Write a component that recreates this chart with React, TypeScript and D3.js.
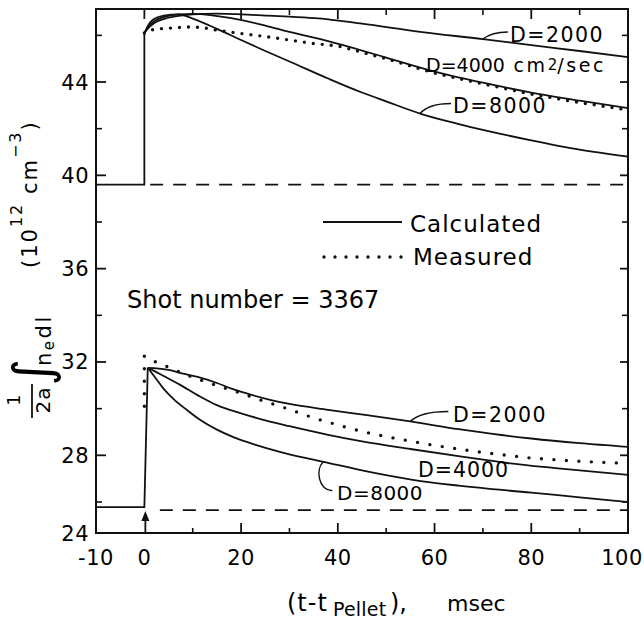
import React from 'react';
import * as d3 from 'd3';

type P = [number, number];

const W = 644;
const H = 620;
const FONT = 'DejaVu Sans';

// axes
const xDomain: P = [-10, 100];
const yDomain: P = [24.67, 47.13];
const xTickLabels = [-10, 0, 20, 40, 60, 80, 100];
const xMinorTicks = [10, 30, 50, 70, 90];
const topMajorTicks = [0, 20, 40, 60, 80];
const yTickLabels = [24, 28, 32, 36, 40, 44];
const yMinorTicks = [26, 30, 34, 38, 42, 46];

// upper group (before pellet, baseline level)
const preUpper: P[] = [[-10, 39.6], [0, 39.6], [0, 46.1]];
const baseUpperLevel = 39.6;
const baseUpperStart = 1.2;

const calcUpper2000: P[] = [[0, 46.1], [1, 46.35], [2, 46.52], [4, 46.7], [6, 46.8], [10, 46.9], [15, 46.93], [20, 46.9], [25, 46.85], [30, 46.8], [36, 46.73], [45, 46.5], [57, 46.15], [70, 45.84], [80, 45.58], [90, 45.33], [100, 45.07]];
const calcUpper4000: P[] = [[0, 46.1], [1, 46.42], [2, 46.6], [4, 46.78], [7, 46.9], [10, 46.92], [14, 46.86], [18, 46.74], [25, 46.42], [30, 46.15], [38, 45.75], [45, 45.35], [50, 45.05], [60, 44.45], [70, 43.97], [80, 43.55], [90, 43.2], [100, 42.88]];
const calcUpper8000: P[] = [[0, 46.1], [1, 46.5], [2, 46.7], [4, 46.85], [7, 46.9], [10, 46.72], [15, 46.28], [20, 45.8], [25, 45.33], [30, 44.88], [38, 44.15], [45, 43.55], [50, 43.17], [57, 42.65], [65, 42.2], [70, 41.95], [80, 41.5], [90, 41.1], [100, 40.8]];
const measUpper: P[] = [[0, 46.1], [1, 46.22], [3, 46.28], [6, 46.32], [9, 46.36], [12, 46.34], [15, 46.22], [20, 46.08], [25, 45.95], [30, 45.8], [35, 45.65], [40, 45.55], [50, 45.0], [60, 44.38], [70, 43.92], [80, 43.48], [90, 43.12], [100, 42.8]];

// lower group
const preLower: P[] = [[-10, 25.78], [0, 25.78], [0.7, 31.75]];
const baseLowerLevel = 25.65;
const baseLowerStart = 3.2;

const calcLower2000: P[] = [[0.7, 31.75], [2, 31.74], [5, 31.66], [8, 31.5], [11, 31.36], [15, 31.1], [18, 30.86], [22, 30.6], [26, 30.38], [30, 30.2], [38, 29.95], [46, 29.72], [55, 29.45], [65, 29.12], [72, 28.92], [80, 28.72], [90, 28.52], [100, 28.36]];
const calcLower4000: P[] = [[0.7, 31.75], [2, 31.62], [4, 31.4], [7.4, 31.02], [11.5, 30.52], [15, 30.15], [20, 29.8], [25, 29.5], [30, 29.25], [38, 28.88], [45, 28.6], [55, 28.27], [66, 27.93], [75, 27.67], [85, 27.45], [100, 27.16]];
const calcLower8000: P[] = [[0.7, 31.75], [2, 31.4], [4, 30.85], [6, 30.42], [8.8, 29.94], [11.5, 29.52], [15, 29.1], [18.4, 28.78], [23, 28.45], [28, 28.15], [33, 27.9], [38, 27.68], [45, 27.35], [55.5, 26.95], [65, 26.7], [80, 26.4], [90, 26.2], [100, 26.0]];
const measLower: P[] = [[0, 30.1], [0, 32.25], [1.5, 32.1], [3, 31.92], [5, 31.78], [8, 31.5], [12, 31.2], [16, 30.92], [20, 30.66], [25, 30.3], [30, 29.97], [35, 29.6], [40, 29.3], [45, 29.02], [50, 28.8], [60, 28.42], [70, 28.12], [80, 27.88], [90, 27.74], [98, 27.67]];

function valueAt(s: P[], t: number): number {
  for (let i = 1; i < s.length; i++) {
    if (t <= s[i][0]) {
      const [t0, v0] = s[i - 1];
      const [t1, v1] = s[i];
      return t1 === t0 ? v1 : v0 + ((t - t0) / (t1 - t0)) * (v1 - v0);
    }
  }
  return s[s.length - 1][1];
}

export default function App() {
  const x = d3.scaleLinear().domain(xDomain).range([96, 628]);
  const y = d3.scaleLinear().domain(yDomain).range([533, 9]).clamp(true);

  const smooth = d3.line<P>().x(d => x(d[0])).y(d => y(d[1])).curve(d3.curveMonotoneX);
  const straight = d3.line<P>().x(d => x(d[0])).y(d => y(d[1]));

  const x0 = x.range()[0];
  const x1 = x.range()[1];
  const yb = y.range()[0];
  const yt = y.range()[1];

  const solid = { fill: 'none', stroke: '#111', strokeWidth: 1.8 };
  const dotted = (gap: number) => ({ fill: 'none', stroke: '#111', strokeWidth: 3.4, strokeLinecap: 'round' as const, strokeDasharray: `0 ${gap}` });

  const pt = (s: P[], t: number): P => [x(t), y(valueAt(s, t))];
  const u2000 = pt(calcUpper2000, 70);
  const u8000 = pt(calcUpper8000, 57);
  const l2000 = pt(calcLower2000, 55);
  const l8000 = pt(calcLower8000, 37);

  const xa = x(0) + 1;

  return (
    <svg width={W} height={H} viewBox={`0 0 ${W} ${H}`} style={{ position: 'absolute', left: 0, top: 0, background: '#fff' }} fontFamily={FONT}>
      <rect x={0} y={0} width={W} height={H} fill="#fff" />

      {/* frame */}
      <rect x={x0} y={yt} width={x1 - x0} height={yb - yt} fill="none" stroke="#111" strokeWidth={2} />

      {/* ticks */}
      {yTickLabels.map(v => (
        <g key={'yl' + v}>
          <line x1={x0} x2={x0 + 10} y1={y(v)} y2={y(v)} stroke="#111" strokeWidth={1.8} />
          <line x1={x1} x2={x1 - 8} y1={y(v)} y2={y(v)} stroke="#111" strokeWidth={1.8} />
          <text x={89} y={y(v) + 7.5} fontSize={21} textAnchor="end" letterSpacing={0.5}>{v}</text>
        </g>
      ))}
      {yMinorTicks.map(v => (
        <g key={'ym' + v}>
          <line x1={x0} x2={x0 + 6} y1={y(v)} y2={y(v)} stroke="#111" strokeWidth={1.6} />
          <line x1={x1} x2={x1 - 6} y1={y(v)} y2={y(v)} stroke="#111" strokeWidth={1.6} />
        </g>
      ))}
      {xTickLabels.map(v => (
        <g key={'xl' + v}>
          {v > 0 && v < 100 && <line x1={x(v)} x2={x(v)} y1={yb} y2={yb - 10} stroke="#111" strokeWidth={1.8} />}
          <text x={Math.min(x(v), W - 22)} y={565} fontSize={21} textAnchor="middle" letterSpacing={0.5}>{v}</text>
        </g>
      ))}
      {xMinorTicks.map(v => (
        <g key={'xm' + v}>
          <line x1={x(v)} x2={x(v)} y1={yb} y2={yb - 5} stroke="#111" strokeWidth={1.6} />
          <line x1={x(v)} x2={x(v)} y1={yt} y2={yt + 6} stroke="#111" strokeWidth={1.6} />
        </g>
      ))}
      {topMajorTicks.map(v => (
        <line key={'tm' + v} x1={x(v)} x2={x(v)} y1={yt} y2={yt + 10} stroke="#111" strokeWidth={1.8} />
      ))}

      {/* baselines */}
      <path d={straight(preUpper) || ''} {...solid} />
      <path d={straight(preLower) || ''} {...solid} />
      <line x1={x(baseUpperStart)} x2={x1} y1={y(baseUpperLevel)} y2={y(baseUpperLevel)} stroke="#111" strokeWidth={1.8} strokeDasharray="13 10" />
      <line x1={x(baseLowerStart)} x2={x1} y1={y(baseLowerLevel)} y2={y(baseLowerLevel)} stroke="#111" strokeWidth={1.8} strokeDasharray="13 10" />

      {/* calculated */}
      {[calcUpper2000, calcUpper4000, calcUpper8000, calcLower2000, calcLower4000, calcLower8000].map((s, i) => (
        <path key={'c' + i} d={smooth(s) || ''} {...solid} />
      ))}
      {/* measured */}
      <path d={straight(measUpper) || ''} {...dotted(9)} />
      <path d={straight(measLower) || ''} {...dotted(12.5)} />

      {/* pellet arrow */}
      <line x1={xa} x2={xa} y1={yb} y2={yb - 14} stroke="#111" strokeWidth={1.8} />
      <path d={`M${xa},${yb - 22} L${xa - 4},${yb - 12} L${xa + 4},${yb - 12} Z`} fill="#111" />

      {/* leaders */}
      <path d={`M${u2000[0]},${u2000[1]} Q${u2000[0] + 9},${u2000[1] - 7} ${u2000[0] + 25},${u2000[1] - 7}`} {...solid} strokeWidth={1.5} />
      <path d={`M${u8000[0]},${u8000[1]} Q${u8000[0] + 9},${u8000[1] - 10} ${u8000[0] + 31},${u8000[1] - 10}`} {...solid} strokeWidth={1.5} />
      <path d={`M${l2000[0]},${l2000[1]} Q${l2000[0] + 10},${l2000[1] - 10} ${l2000[0] + 38},${l2000[1] - 10}`} {...solid} strokeWidth={1.5} />
      <path d={`M${l8000[0]},${l8000[1]} C${l8000[0] - 8},${l8000[1] + 8} ${l8000[0] - 5},${l8000[1] + 28} ${l8000[0] + 9},${l8000[1] + 29}`} {...solid} strokeWidth={1.5} />

      {/* curve labels */}
      <text x={510} y={42} fontSize={20.5} letterSpacing={1.5}>D=2000</text>
      <text x={426} y={72} fontSize={19}>D=4000<tspan letterSpacing={2.6}> cm</tspan><tspan fontSize={15} dy={-2}>2</tspan><tspan dy={2} letterSpacing={2.6}>/sec</tspan></text>
      <text x={453} y={113} fontSize={20.5} letterSpacing={1.5}>D=8000</text>
      <text x={453} y={422} fontSize={20.5} letterSpacing={1.5}>D=2000</text>
      <text x={418} y={477} fontSize={20.5} letterSpacing={1}>D=4000</text>
      <text x={337} y={500} fontSize={20} letterSpacing={0.5}>D=8000</text>

      {/* legend */}
      <line x1={323} x2={402} y1={222} y2={222} {...solid} />
      <text x={410} y={232} fontSize={23} letterSpacing={1}>Calculated</text>
      <line x1={324} x2={402} y1={257} y2={257} {...dotted(11)} />
      <text x={413} y={265} fontSize={23} letterSpacing={1}>Measured</text>

      <text x={127} y={308} fontSize={24}>Shot number = 3367</text>

      {/* x title */}
      <text x={287} y={611} fontSize={24} letterSpacing={1}>(t-t</text>
      <text x={333} y={616} fontSize={19} letterSpacing={0.2}>Pellet</text>
      <text x={390} y={611} fontSize={24}>),</text>
      <text x={447} y={611} fontSize={22}>msec</text>

      {/* y title */}
      <text transform="translate(20,400) rotate(-90)" fontSize={17} textAnchor="middle">1</text>
      <line x1={32} x2={32} y1={384} y2={418} stroke="#111" strokeWidth={1.8} />
      <text transform="translate(50,400) rotate(-90)" fontSize={20} textAnchor="middle" letterSpacing={1}>2a</text>
      <text transform="translate(50,386) rotate(-90)" fontSize={52}>∫</text>
      <text transform="translate(51,366) rotate(-90)" fontSize={21} letterSpacing={2.5}>n<tspan fontSize={15} dy={3}>e</tspan><tspan dy={-3}>dl</tspan></text>
      <text transform="translate(37,268) rotate(-90)" fontSize={21} letterSpacing={2}>(10<tspan fontSize={16} dy={-15}>12</tspan><tspan dy={15}> cm</tspan><tspan fontSize={16} dy={-16}>−3</tspan><tspan dy={16}>)</tspan></text>
    </svg>
  );
}
